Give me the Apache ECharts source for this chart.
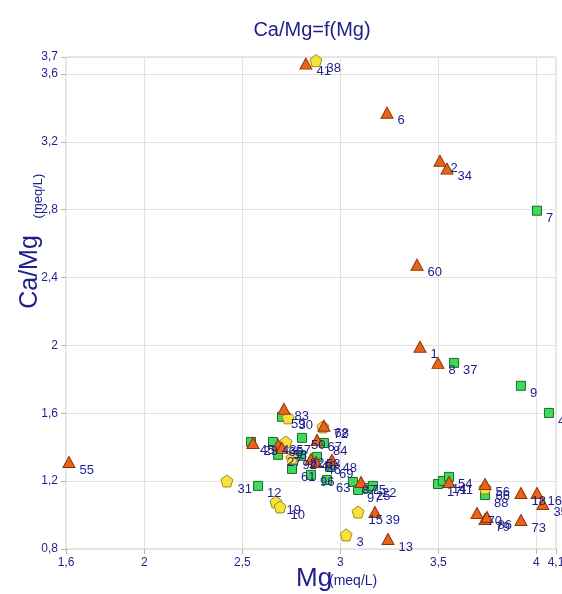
<!DOCTYPE html>
<html>
<head>
<meta charset="utf-8">
<script src="https://cdn.jsdelivr.net/npm/echarts@6/dist/echarts.min.js"></script>
<style>
	html, body { margin: 0; padding: 0; background: #fff; }
	#chart { width: 562px; height: 594px; }
</style>
</head>
<body>
<div id="chart"></div>
<script>
	// x axis ticks
	const xTicks = [1.6, 2, 2.5, 3, 3.5, 4, 4.1];
	const xGrid = [2, 2.5, 3, 3.5, 4];

	// triangles (orange)
	const triMg = [1.615, 2.824, 3.238, 3.508, 3.544, 3.391, 3.406, 3.498, 2.712, 2.916, 2.881, 2.554, 2.682, 2.702, 2.85, 2.876, 2.957, 3.105, 3.176, 3.243, 3.554, 3.738, 3.921, 4.003, 4.033, 3.697, 3.738, 3.748, 3.921];
	const triRatio = [1.313, 3.661, 3.372, 3.089, 3.042, 2.476, 1.992, 1.897, 1.626, 1.526, 1.443, 1.425, 1.414, 1.396, 1.331, 1.313, 1.325, 1.195, 1.018, 0.859, 1.195, 1.183, 1.130, 1.130, 1.065, 1.012, 0.977, 0.989, 0.971];
	const triLabels = ['55', '41', '6', '2', '34', '60', '1', '8', '83', '68', '67', '23', '65', '58', '40', '46', '48', '75', '39', '13', '11', '56', '18', '16', '35', '70', '79', '86', '73'];

	// squares (green)
	const sqMg = [4.003, 3.58, 3.921, 4.064, 2.702, 2.804, 2.916, 2.544, 2.656, 2.682, 2.799, 2.881, 2.753, 2.947, 2.85, 2.932, 3.064, 3.09, 3.136, 3.166, 2.58, 3.498, 3.523, 3.554, 3.738];
	const sqRatio = [2.794, 1.897, 1.762, 1.602, 1.579, 1.455, 1.425, 1.431, 1.431, 1.355, 1.349, 1.343, 1.272, 1.284, 1.237, 1.207, 1.195, 1.148, 1.160, 1.172, 1.172, 1.183, 1.201, 1.225, 1.118];
	const sqLabels = ['7', '37', '9', '4', '59', '50', '84', '45', '43', '27', '82', '53', '61', '69', '96', '63', '87', '97', '25', '22', '12', '17', '14', '54', '88'];

	// pentagons (yellow)
	const pentMg = [2.875, 2.733, 2.911, 2.722, 2.753, 2.421, 2.671, 2.692, 3.090, 3.029, 3.738];
	const pentRatio = [3.679, 1.573, 1.520, 1.431, 1.337, 1.201, 1.077, 1.048, 1.018, 0.883, 1.160];
	const pentLabels = ['38', '30', '72', '57', '92', '31', '19', '10', '15', '3', '66'];

	const navy = '#1e1e8c';
	const font = 'Liberation Sans, Arial, sans-serif';
	const pentagon = 'path://M0,-10 L9.51,-3.09 L5.88,8.09 L-5.88,8.09 L-9.51,-3.09 Z';

	function pts(xs, ys, labels) {
		return xs.map((x, i) => [x, ys[i], labels[i]]);
	}
	function lbl() {
		return {
			show: true,
			position: 'right',
			distance: 4,
			offset: [0, 8],
			color: navy,
			fontSize: 13,
			fontFamily: font,
			formatter: p => p.value[2]
		};
	}
	const comma = v => String(+(+v).toFixed(2)).replace('.', ',');

	let chart = echarts.init(document.getElementById('chart'));
	const option = {
		animation: false,
		title: {
			text: 'Ca/Mg=f(Mg)',
			left: 307,
			top: 15,
			textAlign: 'center',
			textStyle: { color: navy, fontSize: 20, fontWeight: 'normal', fontFamily: font }
		},
		grid: {
			left: 66, right: 6, top: 57, bottom: 45,
			outerBoundsMode: 'none',
			show: true, borderColor: '#d0d0d0', borderWidth: 1
		},
		xAxis: {
			type: 'value', min: 1.6, max: 4.1,
			axisLine: { show: false },
			axisTick: { show: true, length: 5, customValues: xTicks, lineStyle: { color: '#d8a8a8' } },
			axisLabel: { color: navy, fontSize: 12, fontFamily: font, customValues: xTicks, formatter: comma, margin: 8 },
			splitLine: { show: false }
		},
		yAxis: {
			type: 'value', min: 0.8, max: 3.7, interval: 0.4,
			axisLine: { show: false },
			axisTick: { show: true, length: 5, lineStyle: { color: '#d8a8a8' } },
			axisLabel: { color: navy, fontSize: 12, fontFamily: font, formatter: comma, showMinLabel: true, showMaxLabel: true, margin: 8 },
			splitLine: { lineStyle: { color: '#e2e2e2' } }
		},
		graphic: [
			{ type: 'text', left: 296, top: 566, style: { text: 'Mg', fill: navy, fontSize: 26, fontFamily: font } },
			{ type: 'text', left: 329, top: 574, style: { text: '(meq/L)', fill: navy, fontSize: 14, fontFamily: font } },
			{ type: 'text', x: 30, y: 272, rotation: Math.PI / 2, style: { text: 'Ca/Mg', fill: navy, fontSize: 25, align: 'center', verticalAlign: 'middle', fontFamily: font } },
			{ type: 'text', x: 38, y: 196, rotation: Math.PI / 2, style: { text: '(meq/L)', fill: navy, fontSize: 13, align: 'center', verticalAlign: 'middle', fontFamily: font } }
		],
		series: [
			{
				// vertical grid lines only
				type: 'scatter',
				z: 1,
				data: [],
				markLine: {
					z: 1,
					silent: true,
					symbol: 'none',
					label: { show: false },
					lineStyle: { color: '#e2e2e2', type: 'solid', width: 1 },
					data: xGrid.map(v => ({ xAxis: v }))
				}
			},
			{
				type: 'scatter',
				symbol: 'rect',
				symbolSize: 9,
				itemStyle: { color: '#3fd95c', borderColor: '#1d6b2c', borderWidth: 1, opacity: 1 },
				label: lbl(),
				data: pts(sqMg, sqRatio, sqLabels)
			},
			{
				type: 'scatter',
				symbol: pentagon,
				symbolSize: 12,
				itemStyle: { color: '#f6e23c', borderColor: '#9c8a14', borderWidth: 1, opacity: 1 },
				label: lbl(),
				data: pts(pentMg, pentRatio, pentLabels)
			},
			{
				type: 'scatter',
				symbol: 'triangle',
				symbolSize: [12, 11],
				itemStyle: { color: '#ea6418', borderColor: '#8a3608', borderWidth: 1, opacity: 1 },
				label: lbl(),
				data: pts(triMg, triRatio, triLabels)
			}
		]
	};
	chart.setOption(option);
	window.addEventListener('resize', () => {
		chart.resize();
	});
</script>
</body>
</html>
